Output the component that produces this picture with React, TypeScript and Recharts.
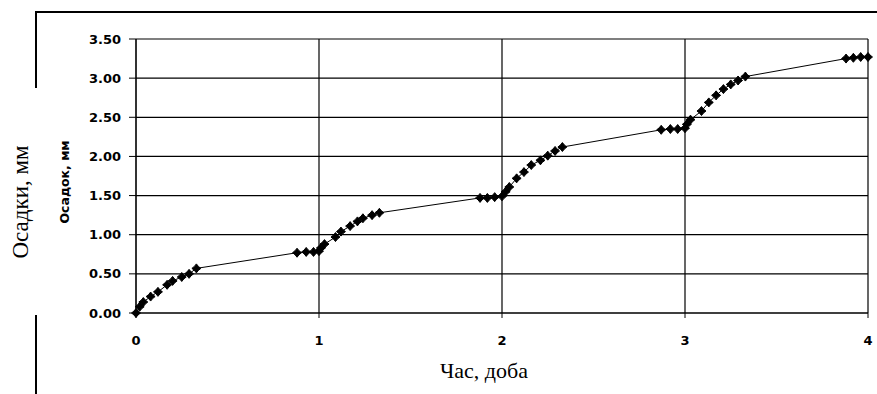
import React from "react";
import { LineChart, Line, XAxis, YAxis, CartesianGrid } from "recharts";

// Час (доба) та осадки (мм)
const TIME = [
  0, 0.02, 0.04, 0.08, 0.12, 0.17, 0.2, 0.25, 0.29, 0.33,
  0.88, 0.93, 0.97,
  1.0, 1.01, 1.03, 1.09, 1.12, 1.17, 1.21, 1.24, 1.29, 1.33,
  1.88, 1.92, 1.96,
  2.0, 2.02, 2.04, 2.08, 2.12, 2.16, 2.21, 2.25, 2.29, 2.33,
  2.87, 2.92, 2.96,
  3.0, 3.01, 3.03, 3.09, 3.13, 3.17, 3.21, 3.25, 3.29, 3.33,
  3.88, 3.92, 3.96, 4.0,
];
const SETTLEMENT = [
  0, 0.08, 0.14, 0.21, 0.27, 0.36, 0.41, 0.46, 0.5, 0.57,
  0.77, 0.78, 0.78,
  0.79, 0.83, 0.88, 0.97, 1.04, 1.11, 1.17, 1.21, 1.25, 1.28,
  1.47, 1.47, 1.48,
  1.49, 1.55, 1.61, 1.72, 1.8, 1.89, 1.95, 2.01, 2.07, 2.12,
  2.34, 2.35, 2.35,
  2.36, 2.41, 2.47, 2.58, 2.69, 2.78, 2.86, 2.92, 2.97, 3.02,
  3.25, 3.26, 3.27, 3.27,
];
const X_TICKS = [0, 1, 2, 3, 4];
const Y_TICKS = [0, 0.5, 1, 1.5, 2, 2.5, 3, 3.5];

const data = TIME.map((t, i) => ({ t, s: SETTLEMENT[i] }));

const TICK_FONT = { fontFamily: "DejaVu Sans", fontWeight: 700, fontSize: 13, fill: "#000" };

function Marker(props: any) {
  const { cx, cy, index } = props;
  if (cx == null || cy == null) return null;
  const r = 4.5;
  const q = 2;
  const d = `M${cx},${cy - r} L${cx + q},${cy - q} L${cx + r},${cy} L${cx + q},${cy + q} L${cx},${cy + r} L${cx - q},${cy + q} L${cx - r},${cy} L${cx - q},${cy - q} Z`;
  return <path key={index} d={d} fill="#000" stroke="#000" strokeWidth={1} />;
}

export default function App() {
  return (
    <div style={{ position: "absolute", left: 0, top: 0, width: 877, height: 394, background: "#fff" }}>
      {/* рамка */}
      <div style={{ position: "absolute", left: 36, top: 11, width: 841, height: 1.5, background: "#000" }} />
      <div style={{ position: "absolute", left: 35, top: 11, width: 1.5, height: 77, background: "#000" }} />
      <div style={{ position: "absolute", left: 35, top: 315, width: 1.5, height: 79, background: "#000" }} />

      <LineChart
        width={877}
        height={394}
        data={data}
        margin={{ top: 39, right: 9, bottom: 0, left: 0 }}
        style={{ position: "absolute", left: 0, top: 0 }}
      >
        <CartesianGrid stroke="#000" strokeWidth={1.2} />
        <XAxis
          dataKey="t"
          type="number"
          domain={[0, 4]}
          ticks={X_TICKS}
          height={81}
          tick={TICK_FONT}
          tickSize={5}
          tickMargin={18}
          stroke="#000"
          interval={0}
        />
        <YAxis
          type="number"
          domain={[0, 3.5]}
          ticks={Y_TICKS}
          width={136}
          tick={TICK_FONT}
          tickSize={7}
          tickMargin={8}
          stroke="#000"
          interval={0}
          tickFormatter={(v: number) => v.toFixed(2)}
        />
        <Line
          dataKey="s"
          type="linear"
          stroke="#000"
          strokeWidth={1}
          dot={<Marker />}
          isAnimationActive={false}
        />
        <text
          x={64}
          y={182}
          transform="rotate(-90 64 182)"
          textAnchor="middle"
          dominantBaseline="central"
          style={{ fontFamily: "DejaVu Sans", fontWeight: 700, fontSize: 12.5, fill: "#000" }}
        >
          Осадок, мм
        </text>
        <text
          x={20}
          y={202}
          transform="rotate(-90 20 202)"
          textAnchor="middle"
          dominantBaseline="central"
          style={{ fontFamily: "Liberation Serif", fontSize: 23, fill: "#000" }}
        >
          Осадки, мм
        </text>
        <text
          x={484}
          y={378}
          textAnchor="middle"
          style={{ fontFamily: "Liberation Serif", fontSize: 22, fill: "#000" }}
        >
          Час, доба
        </text>
      </LineChart>
    </div>
  );
}
